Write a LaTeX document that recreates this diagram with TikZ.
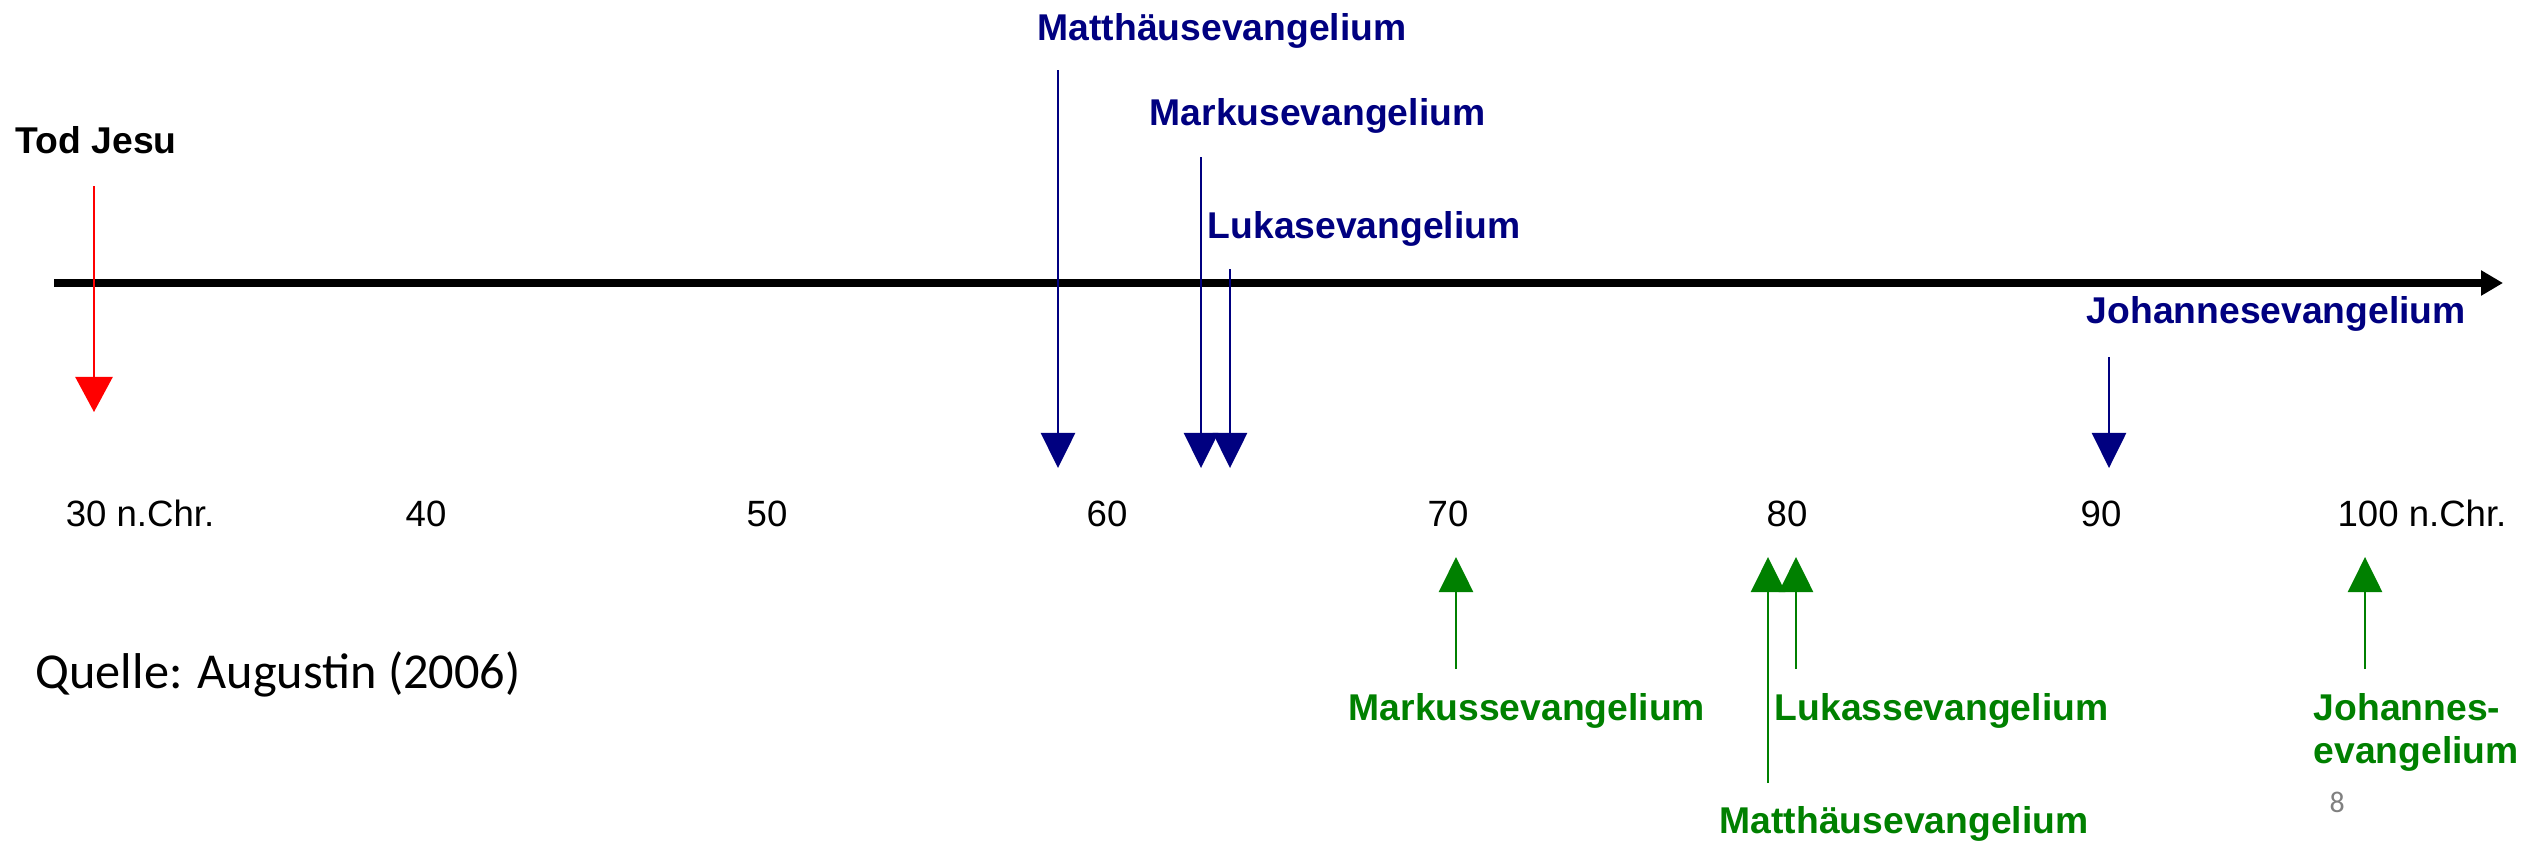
\documentclass[tikz,border=0pt]{standalone}
\usepackage{fontspec}
\setmainfont{Liberation Sans}
\newfontfamily\quellefont{Carlito}
\usepackage{tikz}
\usetikzlibrary{arrows.meta}
\usepackage{xcolor}
\definecolor{evBlue}{RGB}{0, 0, 128}
\definecolor{evGreen}{RGB}{0, 128, 0}
\definecolor{evRed}{RGB}{255, 0, 0}

\begin{document}
\begin{tikzpicture}[x=0.01cm, y=-0.01cm, inner sep=0pt,
    lbl/.style={font=\fontsize{10.6}{12.2}\selectfont\bfseries, anchor=base west},
    yr/.style={font=\fontsize{10.4}{12}\selectfont, anchor=base},
    ptr/.style={line width=0.7pt, -{Triangle[length=0.35cm, width=0.34cm]}}]
  \useasboundingbox (0,0) rectangle (2522,842);

  % time axis
  \coordinate (t0) at (54,283);
  \coordinate (t1) at (2503,283);
  \draw[line width=2.3pt, -{Triangle[length=0.22cm, width=0.24cm]}] (t0) -- (t1);

  % years
  \node[yr] (y30) at (140,526) {30 n.Chr.};
  \node[yr] (y40) at (426,526) {40};
  \node[yr] (y50) at (767,526) {50};
  \node[yr] (y60) at (1107,526) {60};
  \node[yr] (y70) at (1448,526) {70};
  \node[yr] (y80) at (1787,526) {80};
  \node[yr] (y90) at (2101,526) {90};
  \node[yr] (y100) at (2422,526) {100 n.Chr.};

  % Tod Jesu
  \node[lbl] (tod) at (15,153) {Tod Jesu};
  \coordinate (todA) at (94,186);
  \coordinate (todB) at (94,412);
  \draw[line width=0.7pt, evRed, -{Triangle[length=0.35cm, width=0.37cm]}] (todA) -- (todB);

  % early dating (blue)
  \node[lbl, evBlue] (mtE) at (1037,40) {Matthäusevangelium};
  \node[lbl, evBlue] (mkE) at (1149,125) {Markusevangelium};
  \node[lbl, evBlue] (lkE) at (1207,238) {Lukasevangelium};
  \node[lbl, evBlue] (joE) at (2086,323) {Johannesevangelium};
  \coordinate (mtEa) at (1058,70);   \coordinate (mtEb) at (1058,468);
  \coordinate (mkEa) at (1201,157);  \coordinate (mkEb) at (1201,468);
  \coordinate (lkEa) at (1230,269);  \coordinate (lkEb) at (1230,468);
  \coordinate (joEa) at (2109,357);  \coordinate (joEb) at (2109,468);
  \draw[ptr, evBlue] (mtEa) -- (mtEb);
  \draw[ptr, evBlue] (mkEa) -- (mkEb);
  \draw[ptr, evBlue] (lkEa) -- (lkEb);
  \draw[ptr, evBlue] (joEa) -- (joEb);

  % late dating (green)
  \node[lbl, evGreen] (mkL) at (1348,720) {Markussevangelium};
  \node[lbl, evGreen] (lkL) at (1774,720) {Lukassevangelium};
  \node[lbl, evGreen] (mtL) at (1719,833) {Matthäusevangelium};
  \node[lbl, evGreen, align=left] (joL) at (2313,763) {Johannes-\\evangelium};
  \coordinate (mkLa) at (1456,669);  \coordinate (mkLb) at (1456,557);
  \coordinate (mtLa) at (1768,783);  \coordinate (mtLb) at (1768,557);
  \coordinate (lkLa) at (1796,669);  \coordinate (lkLb) at (1796,557);
  \coordinate (joLa) at (2365,669);  \coordinate (joLb) at (2365,557);
  \draw[ptr, evGreen] (mkLa) -- (mkLb);
  \draw[ptr, evGreen] (mtLa) -- (mtLb);
  \draw[ptr, evGreen] (lkLa) -- (lkLb);
  \draw[ptr, evGreen] (joLa) -- (joLb);

  % source and page number
  \node[anchor=base west, font=\quellefont\fontsize{14.3}{16}\selectfont] (src) at (35,688) {Quelle: Augustin (2006)};
  \node[anchor=base west, font=\quellefont\fontsize{8.5}{10}\selectfont, gray] (pg) at (2329,812) {8};
\end{tikzpicture}
\end{document}
